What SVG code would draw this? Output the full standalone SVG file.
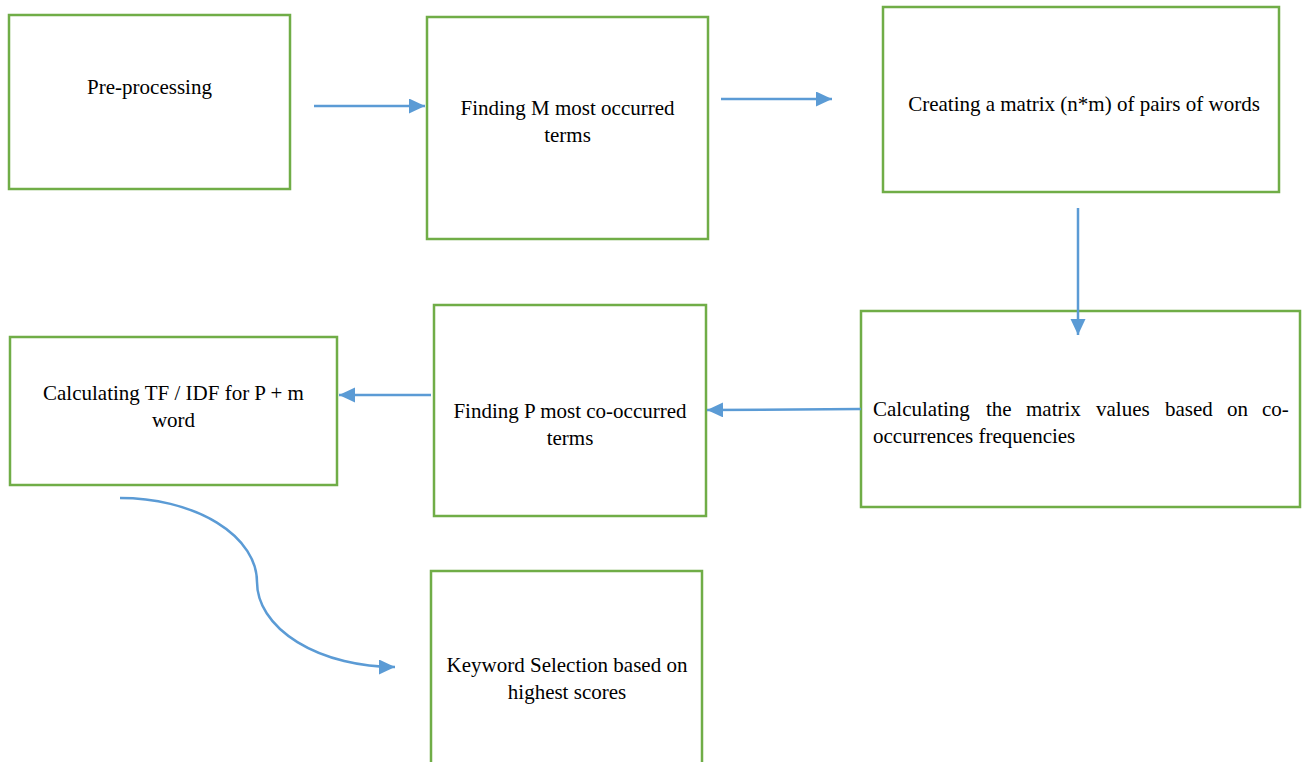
<svg xmlns="http://www.w3.org/2000/svg" width="1302" height="762" viewBox="0 0 1302 762">
<style>
.box{fill:#fff;stroke:#70AD47;stroke-width:2.5}
.t{font-family:"Liberation Serif","Times New Roman",serif;font-size:21px;fill:#000}
.c{text-anchor:middle}
.ln{fill:none;stroke:#5B9BD5;stroke-width:2.5}
</style>
<defs>
<marker id="ah" markerUnits="userSpaceOnUse" markerWidth="17" markerHeight="16" refX="16" refY="7.5" orient="auto">
<path d="M0,0 L16,7.5 L0,15 z" fill="#5B9BD5"/>
</marker>
</defs>
<rect width="1302" height="762" fill="#fff"/>
<g id="n1"><rect class="box" x="9" y="15" width="281" height="174"/>
<text class="t c" x="149.5" y="94">Pre-processing</text></g>
<g id="n2"><rect class="box" x="427" y="17" width="281" height="222"/>
<text class="t c" x="567.5" y="115">Finding M most occurred</text>
<text class="t c" x="567.5" y="142">terms</text></g>
<g id="n3"><rect class="box" x="883" y="7" width="396" height="185"/>
<text class="t c" x="1084" y="111">Creating a matrix (n*m) of pairs of words</text></g>
<g id="n4"><rect class="box" x="861" y="311" width="439" height="196"/>
<text class="t" y="416"><tspan x="873">Calculating</tspan><tspan x="986">the</tspan><tspan x="1026">matrix</tspan><tspan x="1096">values</tspan><tspan x="1165">based</tspan><tspan x="1227">on</tspan><tspan x="1262">co-</tspan></text>
<text class="t" x="873" y="443">occurrences frequencies</text></g>
<g id="n5"><rect class="box" x="434" y="305" width="272" height="211"/>
<text class="t c" x="570" y="418">Finding P most co-occurred</text>
<text class="t c" x="570" y="445">terms</text></g>
<g id="n6"><rect class="box" x="10" y="337" width="327" height="148"/>
<text class="t c" x="173.5" y="400">Calculating TF / IDF for P + m</text>
<text class="t c" x="173.5" y="427">word</text></g>
<g id="n7"><rect class="box" x="431" y="571" width="271" height="200"/>
<text class="t c" x="567" y="672">Keyword Selection based on</text>
<text class="t c" x="567" y="699">highest scores</text></g>
<g id="connectors">
<line class="ln" x1="314" y1="106" x2="425" y2="106" marker-end="url(#ah)"/>
<line class="ln" x1="721" y1="99" x2="832" y2="99" marker-end="url(#ah)"/>
<line class="ln" x1="1078" y1="208" x2="1078" y2="335" marker-end="url(#ah)"/>
<line class="ln" x1="861" y1="409" x2="707" y2="410" marker-end="url(#ah)"/>
<line class="ln" x1="431" y1="395" x2="339" y2="395" marker-end="url(#ah)"/>
<path class="ln" d="M120,498 A137 84 0 0 1 257 582 A138 85 0 0 0 395 667" marker-end="url(#ah)"/>
</g>
</svg>
